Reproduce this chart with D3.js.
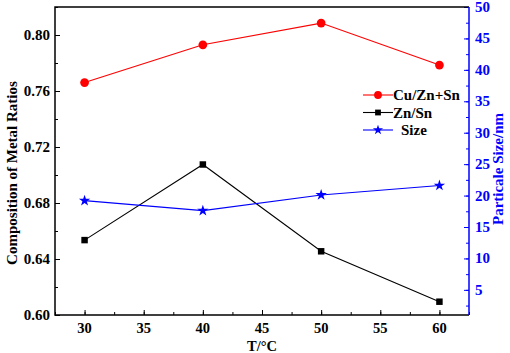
<!DOCTYPE html>
<html>
<head>
<meta charset="utf-8">
<script src="https://cdn.jsdelivr.net/npm/d3@7/dist/d3.min.js"></script>
<style>
  body { margin: 0; background: #fff; }
</style>
</head>
<body>
<div id="chart"></div>
<script>
// data
const temps = [30, 40, 50, 60];
const cuRatio = [0.766, 0.793, 0.8085, 0.7785];
const znRatio = [0.6535, 0.7075, 0.6455, 0.6095];
const sizeNm = [19.2, 17.6, 20.1, 21.6];
const xTicks = [30, 35, 40, 45, 50, 55, 60];
const leftTicks = [0.60, 0.64, 0.68, 0.72, 0.76, 0.80];
const rightTicks = [5, 10, 15, 20, 25, 30, 35, 40, 45, 50];

const width = 510, height = 353;
const margin = { top: 7, right: 41, bottom: 38, left: 55 };
const innerW = width - margin.left - margin.right;
const innerH = height - margin.top - margin.bottom;
const serif = "'Liberation Serif', 'Times New Roman', 'DejaVu Serif', serif";

const svg = d3.select("#chart").append("svg")
    .attr("width", width)
    .attr("height", height)
    .attr("font-family", serif)
    .attr("font-weight", "bold");

const g = svg.append("g")
    .attr("transform", `translate(${margin.left},${margin.top})`);

const x = d3.scaleLinear().domain([27.5, 62.5]).range([0, innerW]);
const yL = d3.scaleLinear().domain([0.60, 0.82]).range([innerH, 0]);
const yR = d3.scaleLinear().domain([1, 50]).range([innerH, 0]);

// minor ticks first, then major ticks, labels drawn by hand so the font sticks
g.append("g")
    .attr("transform", `translate(0,${innerH})`)
    .call(d3.axisTop(x).tickValues(d3.range(27.5, 62.6, 2.5)).tickSize(3).tickFormat(""))
    .call(a => a.select(".domain").remove());
g.append("g")
    .attr("transform", `translate(0,${innerH})`)
    .call(d3.axisTop(x).tickValues(xTicks).tickSize(5).tickFormat(""))
    .call(a => a.select(".domain").remove());
g.append("g")
    .selectAll("text")
    .data(xTicks)
    .enter()
    .append("text")
    .attr("x", d => x(d))
    .attr("y", innerH + 18)
    .attr("text-anchor", "middle")
    .attr("font-size", 14.5)
    .text(d => d);

g.append("g")
    .call(d3.axisRight(yL).tickValues(d3.range(0.60, 0.821, 0.02)).tickSize(3).tickFormat(""))
    .call(a => a.select(".domain").remove());
g.append("g")
    .call(d3.axisRight(yL).tickValues(leftTicks).tickSize(5).tickFormat(""))
    .call(a => a.select(".domain").remove());
g.append("g")
    .selectAll("text")
    .data(leftTicks)
    .enter()
    .append("text")
    .attr("x", -5)
    .attr("y", d => yL(d) + 5)
    .attr("text-anchor", "end")
    .attr("font-size", 15)
    .text(d => d.toFixed(2));

const right = g.append("g").attr("transform", `translate(${innerW},0)`);
right.append("g")
    .call(d3.axisLeft(yR).tickValues(d3.range(2.5, 50.1, 2.5)).tickSize(3).tickFormat(""))
    .call(a => a.select(".domain").remove())
    .selectAll("line").attr("stroke", "#0000ff");
right.append("g")
    .call(d3.axisLeft(yR).tickValues(rightTicks).tickSize(5).tickFormat(""))
    .call(a => a.select(".domain").remove())
    .selectAll("line").attr("stroke", "#0000ff");
right.append("g")
    .selectAll("text")
    .data(rightTicks)
    .enter()
    .append("text")
    .attr("x", 6)
    .attr("y", d => yR(d) + 5)
    .attr("fill", "#0000ff")
    .attr("font-size", 15)
    .text(d => d);

// frame
g.append("path")
    .attr("d", `M${innerW},0H0V${innerH}H${innerW}`)
    .attr("fill", "none")
    .attr("stroke", "#000")
    .attr("stroke-width", 1.5);
g.append("line")
    .attr("x1", innerW).attr("x2", innerW)
    .attr("y1", 0).attr("y2", innerH)
    .attr("stroke", "#0000ff")
    .attr("stroke-width", 1.5);

// axis titles
svg.append("text")
    .attr("transform", `translate(17,${margin.top + innerH / 2 + 12}) rotate(-90)`)
    .attr("text-anchor", "middle")
    .attr("font-size", 15)
    .text("Composition of Metal Ratios");
svg.append("text")
    .attr("transform", `translate(503,${margin.top + innerH / 2 + 8}) rotate(-90)`)
    .attr("text-anchor", "middle")
    .attr("font-size", 15)
    .attr("fill", "#0000ff")
    .text("Particale Size/nm");
svg.append("text")
    .attr("x", margin.left + x(45))
    .attr("y", 351)
    .attr("text-anchor", "middle")
    .attr("font-size", 14.5)
    .text("T/°C");

// series
const series = [
    { name: "Cu/Zn+Sn", values: cuRatio, y: yL, color: "#ff0000", symbol: d3.symbolCircle, size: 60 },
    { name: "Zn/Sn", values: znRatio, y: yL, color: "#000000", symbol: d3.symbolSquare, size: 42 },
    { name: "Size", values: sizeNm, y: yR, color: "#0000ff", symbol: d3.symbolStar, size: 40 }
];

series.forEach(s => {
    const pts = temps.map((t, i) => [x(t), s.y(s.values[i])]);
    g.append("path")
        .datum(pts)
        .attr("d", d3.line())
        .attr("fill", "none")
        .attr("stroke", s.color)
        .attr("stroke-width", 1.1);
    g.selectAll(null)
        .data(pts)
        .enter()
        .append("path")
        .attr("transform", d => `translate(${d[0]},${d[1]})`)
        .attr("d", d3.symbol().type(s.symbol).size(s.size))
        .attr("fill", s.color);
});

// legend
const legend = svg.append("g").attr("transform", "translate(363,95)");
series.forEach((s, i) => {
    const row = legend.append("g").attr("transform", `translate(0,${i * 17.5})`);
    row.append("line")
        .attr("x1", 0).attr("x2", 30)
        .attr("stroke", s.color)
        .attr("stroke-width", 1.1);
    row.append("path")
        .attr("transform", "translate(15,0)")
        .attr("d", d3.symbol().type(s.symbol).size(s.size * 0.8))
        .attr("fill", s.color);
    row.append("text")
        .attr("x", s.name === "Size" ? 38 : 30)
        .attr("y", 5)
        .attr("font-size", 15)
        .text(s.name);
});
</script>
</body>
</html>
